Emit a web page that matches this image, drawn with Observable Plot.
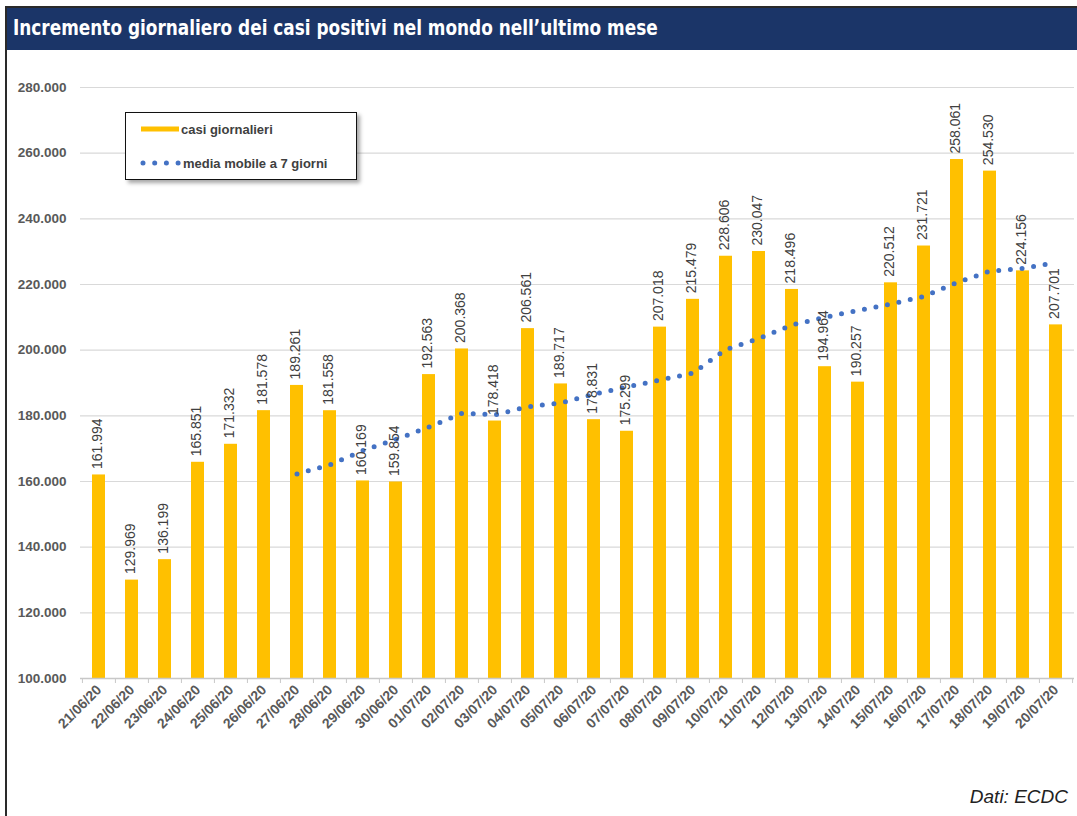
<!DOCTYPE html>
<html>
<head>
<meta charset="utf-8">
<script src="https://cdn.jsdelivr.net/npm/d3@7"></script>
<script src="https://cdn.jsdelivr.net/npm/@observablehq/plot@0.6"></script>
<style>
  html, body { margin: 0; padding: 0; background: #fff; }
  body { width: 1077px; height: 816px; position: relative; overflow: hidden; font-family: "Liberation Sans", Arial, sans-serif; }
  #frame { position: absolute; left: 5px; top: 6px; width: 1072px; height: 810px; border-left: 2px solid #2a2a2a; border-top: 2px solid #2a2a2a; box-sizing: border-box; }
  #title { position: absolute; left: 7px; top: 8px; width: 1070px; height: 42px; background: #1b3568; }
  #title span { position: absolute; left: 6px; top: 8px; color: #fff; font-family: "DejaVu Sans Condensed", "Liberation Sans", sans-serif; font-weight: bold; font-size: 21px; white-space: nowrap; transform: scaleX(0.895); transform-origin: 0 50%; }
  #chart { position: absolute; left: 0; top: 50px; }
  #chart g[aria-label="x-axis tick label"] { font-size: 14px; }
  #chart g[aria-label="y-axis tick label"] { font-size: 13.5px; }
  #legend { position: absolute; left: 125px; top: 112px; width: 232px; height: 68px; border: 1.5px solid #111; background: #fff; box-sizing: border-box; box-shadow: 3px 3px 4px rgba(0,0,0,0.35); }
  .lg-row { position: absolute; left: 13px; height: 20px; display: flex; align-items: center; font-weight: bold; font-size: 13px; color: #404040; white-space: nowrap; }
  #caption { position: absolute; right: 9px; top: 786px; font-style: italic; font-size: 19px; color: #222; }
</style>
</head>
<body>
<div id="frame"></div>
<div id="title"><span>Incremento giornaliero dei casi positivi nel mondo nell’ultimo mese</span></div>
<div id="chart"></div>
<div id="legend">
  <div class="lg-row" style="top:6px;"><svg width="42" height="20"><line x1="2" y1="10" x2="40" y2="10" stroke="#ffc000" stroke-width="5"/></svg><span>casi giornalieri</span></div>
  <div class="lg-row" style="top:40px;"><svg width="44" height="20"><line x1="4" y1="10" x2="41" y2="10" stroke="#4472c4" stroke-width="5" stroke-linecap="round" stroke-dasharray="0 11.7"/></svg><span>media mobile a 7 giorni</span></div>
</div>
<div id="caption">Dati: ECDC</div>
<script>
const dates = ["21/06/20","22/06/20","23/06/20","24/06/20","25/06/20","26/06/20","27/06/20","28/06/20","29/06/20","30/06/20",
  "01/07/20","02/07/20","03/07/20","04/07/20","05/07/20","06/07/20","07/07/20","08/07/20","09/07/20","10/07/20",
  "11/07/20","12/07/20","13/07/20","14/07/20","15/07/20","16/07/20","17/07/20","18/07/20","19/07/20","20/07/20"];
const cases = [161994,129969,136199,165851,171332,181578,189261,181558,160169,159854,
  192563,200368,178418,206561,189717,178831,175299,207018,215479,228606,
  230047,218496,194964,190257,220512,231721,258061,254530,224156,207701];
const maDates = dates.slice(6);
const maValues = [162312,165107,169421,172800,176616,180764,180313,182784,183950,186616,
  188822,190887,193046,200216,203571,207682,209987,212124,214052,216372,
  220580,224077,224886,226705];
const yTicks = [100000,120000,140000,160000,180000,200000,220000,240000,260000,280000];

const locale = d3.formatLocale({decimal: ",", thousands: ".", grouping: [3]});
const fmt = locale.format(",d");

const barData = dates.map((d, i) => ({date: d, value: cases[i]}));
const maData = maDates.map((d, i) => ({date: d, value: maValues[i]}));

const W = 1077, mL = 80, mR = 3;
const step = (W - mL - mR) / dates.length;

const chart = Plot.plot({
  width: W,
  height: 700,
  marginLeft: mL,
  marginRight: mR,
  marginTop: 37,
  marginBottom: 72,
  style: {fontFamily: "'Liberation Sans', Arial, sans-serif", fontSize: "13px", fontWeight: "bold", color: "#595959", background: "transparent"},
  x: {domain: dates, paddingInner: 0.62, paddingOuter: 0.31, tickSize: 0, tickRotate: -45, tickPadding: 9, label: null},
  y: {domain: [100000, 280000], ticks: yTicks, tickFormat: fmt, tickSize: 0, tickPadding: 14, label: null},
  marks: [
    Plot.ruleY(yTicks.slice(1), {stroke: "#d9d9d9", strokeWidth: 1.2}),
    Plot.barY(barData, {x: "date", y1: 100000, y2: "value", fill: "#ffc000"}),
    Plot.ruleY([100000], {stroke: "#c8c8c8", strokeWidth: 1.5}),
    Plot.ruleX(dates, {x: d => d, y1: 100000, y2: 100000, dx: -step / 2, insetBottom: -5, stroke: "#c8c8c8"}),
    Plot.ruleX(dates.slice(-1), {x: d => d, y1: 100000, y2: 100000, dx: step / 2, insetBottom: -5, stroke: "#c8c8c8"}),
    Plot.lineY(maData, {x: "date", y: "value", stroke: "#4472c4", strokeWidth: 5, strokeLinecap: "round", strokeDasharray: "0 11.7"}),
    Plot.text(barData, {x: "date", y: "value", text: d => fmt(d.value), rotate: -90, textAnchor: "start", dy: -6, dx: -1, fill: "#404040", fontWeight: "normal", fontSize: 14})
  ]
});
document.getElementById("chart").appendChild(chart);
</script>
</body>
</html>
